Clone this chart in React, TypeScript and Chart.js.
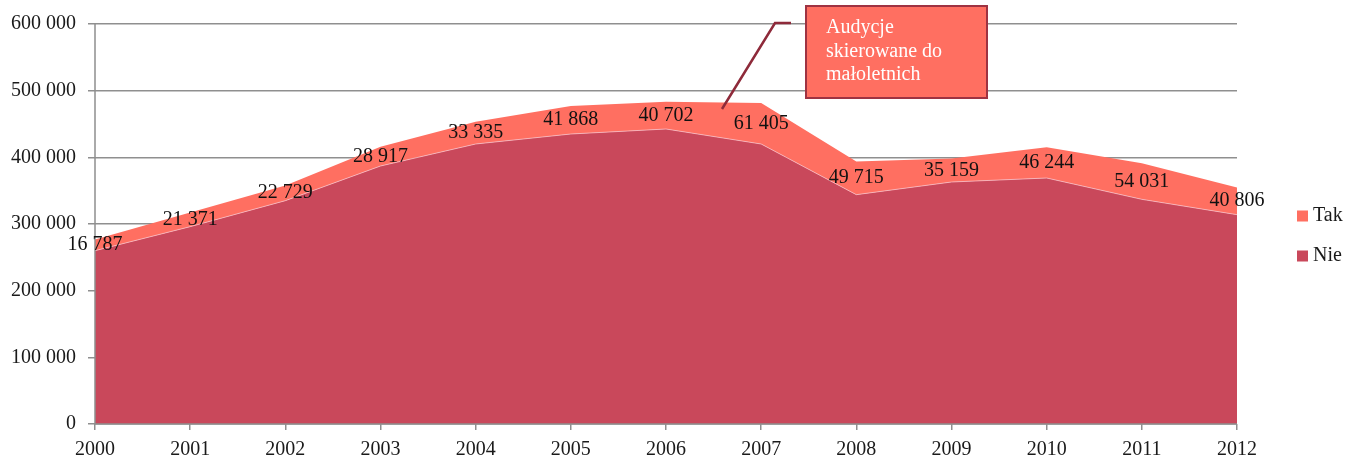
import React, { useEffect, useRef } from "react";
import { Chart, registerables } from "chart.js";

Chart.register(...registerables);

const years = ["2000", "2001", "2002", "2003", "2004", "2005", "2006", "2007", "2008", "2009", "2010", "2011", "2012"];
const nieValues = [260000, 296000, 335000, 387000, 420000, 435000, 442500, 420000, 344000, 363000, 369000, 337000, 314000];
const takValues = [16787, 21371, 22729, 28917, 33335, 41868, 40702, 61405, 49715, 35159, 46244, 54031, 40806];
const yTicks = [0, 100000, 200000, 300000, 400000, 500000, 600000];
const seriesNames = ["Nie", "Tak"];
const calloutLines = ["Audycje", "skierowane do", "małoletnich"];

const NIE_COLOR = "#C9485B";
const TAK_COLOR = "#FF6F61";
const FONT = "'Liberation Serif', 'Times New Roman', serif";
const TEXT = "#1a1a1a";
const GRID = "#8f8f8f";

const fmt = (v: number) => String(Math.round(v)).replace(/\B(?=(\d{3})+(?!\d))/g, " ");

export default function App() {
  const ref = useRef<HTMLCanvasElement | null>(null);
  useEffect(() => {
    document.body.style.margin = "0";
    if (!ref.current) return;

    const labelPlugin = {
      id: "bandLabels",
      afterDatasetsDraw(chart: any) {
        const ctx = chart.ctx;
        const x = chart.scales.x;
        const y = chart.scales.y;
        const area = chart.chartArea;
        ctx.save();
        // axis lines drawn above the fills
        ctx.strokeStyle = GRID;
        ctx.lineWidth = 1.5;
        ctx.beginPath();
        ctx.moveTo(area.left, area.top);
        ctx.lineTo(area.left, area.bottom);
        ctx.lineTo(area.right, area.bottom);
        ctx.stroke();
        ctx.font = `20px ${FONT}`;
        ctx.fillStyle = "#111";
        ctx.textAlign = "center";
        ctx.textBaseline = "middle";
        takValues.forEach((t, i) => {
          const px = x.getPixelForValue(i);
          const yTop = y.getPixelForValue(nieValues[i] + t);
          const yBot = y.getPixelForValue(nieValues[i]);
          ctx.fillText(fmt(t), px, (yTop + yBot) / 2);
        });
        ctx.restore();
      },
      afterDraw(chart: any) {
        const ctx = chart.ctx;
        ctx.save();
        // leader line
        ctx.strokeStyle = "#8E2A3A";
        ctx.lineWidth = 2.5;
        ctx.beginPath();
        ctx.moveTo(722, 109);
        ctx.lineTo(775, 23);
        ctx.lineTo(791, 23);
        ctx.stroke();
        // callout box
        ctx.fillStyle = TAK_COLOR;
        ctx.fillRect(806, 6, 181, 92);
        ctx.strokeStyle = "#9E3342";
        ctx.lineWidth = 2;
        ctx.strokeRect(806, 6, 181, 92);
        ctx.fillStyle = "#ffffff";
        ctx.font = `20px ${FONT}`;
        ctx.textAlign = "left";
        ctx.textBaseline = "middle";
        calloutLines.forEach((l, i) => ctx.fillText(l, 826, 28 + i * 23.5));
        // legend
        const items = [
          { name: seriesNames[1], color: TAK_COLOR, y: 216 },
          { name: seriesNames[0], color: NIE_COLOR, y: 256 },
        ];
        items.forEach((it) => {
          ctx.fillStyle = it.color;
          ctx.fillRect(1297, it.y - 5.5, 11, 11);
          ctx.fillStyle = TEXT;
          ctx.fillText(it.name, 1313, it.y);
        });
        ctx.restore();
      },
    };

    const chart = new Chart(ref.current, {
      type: "line",
      data: {
        labels: years,
        datasets: [
          {
            label: seriesNames[0],
            data: nieValues,
            backgroundColor: NIE_COLOR,
            borderColor: "rgba(255,200,205,0.7)",
            borderWidth: 1,
            fill: "origin",
            pointRadius: 0,
            tension: 0,
          },
          {
            label: seriesNames[1],
            data: takValues,
            backgroundColor: TAK_COLOR,
            borderColor: TAK_COLOR,
            borderWidth: 0,
            fill: "-1",
            pointRadius: 0,
            tension: 0,
          },
        ],
      },
      options: {
        animation: false,
        responsive: true,
        maintainAspectRatio: false,
        layout: { padding: { top: 24, right: 111, left: 0, bottom: 0 } },
        plugins: { legend: { display: false }, tooltip: { enabled: false } },
        scales: {
          x: {
            offset: false,
            grid: { display: true, drawOnChartArea: false, drawTicks: true, tickLength: 6, color: GRID, lineWidth: 1.5 },
            border: { display: false },
            ticks: { color: TEXT, font: { family: FONT, size: 20 }, padding: 8, maxRotation: 0, autoSkip: false },
            afterFit: (s: any) => {
              s.height = 35;
            },
          },
          y: {
            stacked: true,
            min: 0,
            max: 600000,
            afterBuildTicks: (s: any) => {
              s.ticks = yTicks.map((v) => ({ value: v }));
            },
            grid: { color: GRID, lineWidth: 1.5, tickLength: 7, drawTicks: true },
            border: { display: false },
            ticks: {
              color: TEXT,
              font: { family: FONT, size: 20 },
              padding: 12,
              callback: (v: any) => fmt(Number(v)),
            },
            afterFit: (s: any) => {
              s.width = 95;
            },
          },
        },
      },
      plugins: [labelPlugin],
    });
    return () => chart.destroy();
  }, []);

  return (
    <div style={{ position: "absolute", left: 0, top: 0, width: 1348, height: 459 }}>
      <canvas ref={ref} />
    </div>
  );
}
